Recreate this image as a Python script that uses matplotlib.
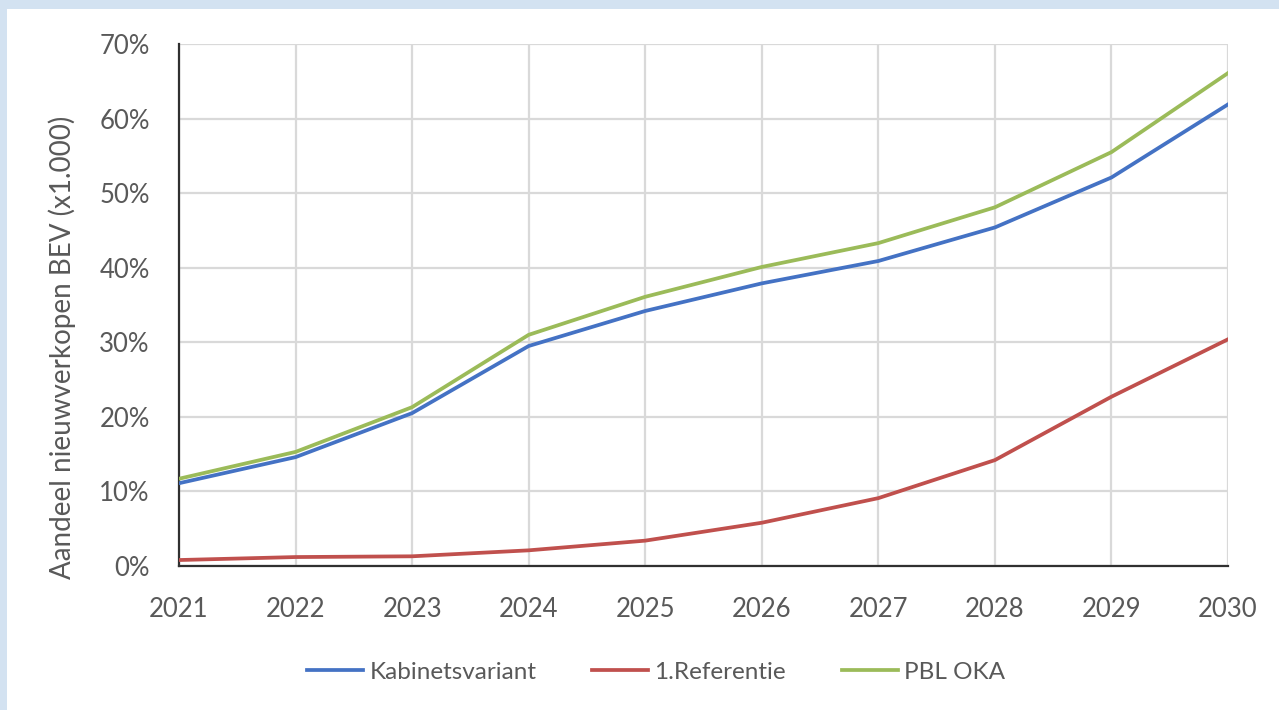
import matplotlib
matplotlib.use("Agg")
import matplotlib.pyplot as plt
from matplotlib.patches import Rectangle
from matplotlib.ticker import PercentFormatter

plt.rcParams["font.family"] = ["Lato", "DejaVu Sans"]

BLUE = "#4472C4"
RED = "#C0504D"
GREEN = "#9BBB59"
TXT = "#595959"
GRID = "#D9D9D9"

years = [2021, 2022, 2023, 2024, 2025, 2026, 2027, 2028, 2029, 2030]
kabinet = [11.1, 14.6, 20.5, 29.5, 34.2, 37.9, 40.9, 45.4, 52.1, 61.9]
referentie = [0.8, 1.2, 1.3, 2.1, 3.4, 5.8, 9.1, 14.2, 22.7, 30.4]
pbl_oka = [11.7, 15.3, 21.3, 31.0, 36.1, 40.1, 43.3, 48.1, 55.5, 66.1]
yticks = [0, 10, 20, 30, 40, 50, 60, 70]

fig = plt.figure(figsize=(12.79, 7.10), dpi=100)
# screenshot frame (light blue band top and left)
fig.patches.append(Rectangle((0, 1 - 9 / 710), 1, 9 / 710, transform=fig.transFigure,
                             facecolor="#D3E2F1", edgecolor="none", zorder=0))
fig.patches.append(Rectangle((0, 0), 7 / 1279, 1, transform=fig.transFigure,
                             facecolor="#D3E2F1", edgecolor="none", zorder=0))

ax = fig.add_axes([179 / 1279, 1 - 566 / 710, (1228 - 179) / 1279, (566 - 44) / 710])
ax.plot(years, kabinet, color=BLUE, linewidth=2.7, label="Kabinetsvariant", zorder=3)
ax.plot(years, referentie, color=RED, linewidth=2.7, label="1.Referentie", zorder=3)
ax.plot(years, pbl_oka, color=GREEN, linewidth=2.7, label="PBL OKA", zorder=3)

ax.set_xlim(years[0], years[-1])
ax.set_ylim(0, 70)
ax.set_xticks(years)
ax.set_yticks(yticks)
ax.yaxis.set_major_formatter(PercentFormatter(decimals=0))
ax.grid(True, color=GRID, linewidth=1.6, zorder=0)
ax.set_axisbelow(True)
ax.tick_params(length=0, labelsize=18.5, labelcolor=TXT)
ax.tick_params(axis="y", pad=21)
ax.tick_params(axis="x", pad=22)
for s in ["top", "right"]:
    ax.spines[s].set_visible(False)
for s in ["left", "bottom"]:
    ax.spines[s].set_color("#303030")
    ax.spines[s].set_linewidth(1.6)
ax.set_ylabel("Aandeel nieuwverkopen BEV (x1.000)", fontsize=20, color=TXT)
ax.yaxis.set_label_coords(-0.098, 0.418)

fig.legend(loc="center", bbox_to_anchor=(0.513, 1 - 672 / 710), ncol=3, frameon=False,
           fontsize=17.5, labelcolor=TXT, handlelength=2.3, handletextpad=0.25,
           columnspacing=2.3)

fig.savefig("out.png", dpi=100)
